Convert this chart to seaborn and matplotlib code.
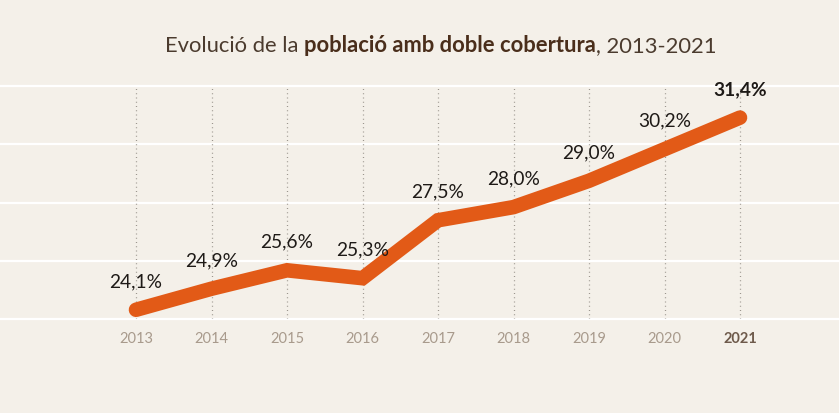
import numpy as np
import pandas as pd
import seaborn as sns
import matplotlib.pyplot as plt

years = [2013, 2014, 2015, 2016, 2017, 2018, 2019, 2020, 2021]
values = [24.1, 24.9, 25.6, 25.3, 27.5, 28.0, 29.0, 30.2, 31.4]
labels = ["24,1%", "24,9%", "25,6%", "25,3%", "27,5%", "28,0%", "29,0%", "30,2%", "31,4%"]
title_parts = ["Evolució de la ", "població amb doble cobertura", ", 2013-2021"]

BG = "#f4f0e9"
ORANGE = "#e25a17"

sns.set_theme(style="white")
plt.rcParams["font.family"] = ["Lato", "DejaVu Sans"]

df = pd.DataFrame({"year": years, "value": values})

fig = plt.figure(figsize=(8.39, 4.14), dpi=100, facecolor=BG)
ax = fig.add_axes([0, 94 / 414, 1, 233 / 414])
ax.set_facecolor(BG)

y_lo, y_hi = 23.75, 32.6
ax.set_xlim(2013 - 136 / 75.5, 2021 + 99 / 75.5)
ax.set_ylim(y_lo, y_hi)

# white horizontal guides
for gy in np.linspace(y_lo, y_hi, 5):
    ax.axhline(gy, color="white", lw=1.6, clip_on=False, zorder=0)

# dotted verticals
ax.vlines(years, y_lo, y_hi, colors="#9c968e", lw=0.9,
          linestyles=(0, (0.8, 2.6)), zorder=1)

sns.lineplot(data=df, x="year", y="value", ax=ax, color=ORANGE, lw=10.5,
             solid_capstyle="round", solid_joinstyle="miter", zorder=3)

for i, (yr, v, lab) in enumerate(zip(years, values, labels)):
    last = i == len(years) - 1
    ax.annotate(lab, (yr, v), xytext=(0, 17), textcoords="offset points",
                ha="center", va="baseline", fontsize=13.8,
                fontweight="bold" if last else "normal",
                color="#1e1a17", zorder=4)

ax.set_xticks(years)
ax.set_xticklabels([str(y) for y in years])
ax.set_yticks([])
ax.tick_params(axis="x", length=0, pad=9)
for i, t in enumerate(ax.get_xticklabels()):
    if i == len(years) - 1:
        t.set_fontweight("bold")
        t.set_color("#6e5a4b")
    else:
        t.set_color("#a89a8c")
    t.set_fontsize(10.5)
ax.set_xlabel("")
ax.set_ylabel("")
sns.despine(ax=ax, left=True, bottom=True)

# title in three runs
fig.canvas.draw()
renderer = fig.canvas.get_renderer()
x = 165
styles = [("normal", "#4b3b2e"), ("bold", "#4a2e1b"), ("normal", "#4b3b2e")]
for part, (w, c) in zip(title_parts, styles):
    t = fig.text(x / 839, 1 - 52 / 414, part, fontsize=15.8, fontweight=w,
                 color=c, ha="left", va="baseline")
    bb = t.get_window_extent(renderer=renderer)
    x += bb.width

fig.savefig("out.png", dpi=100, facecolor=BG)
